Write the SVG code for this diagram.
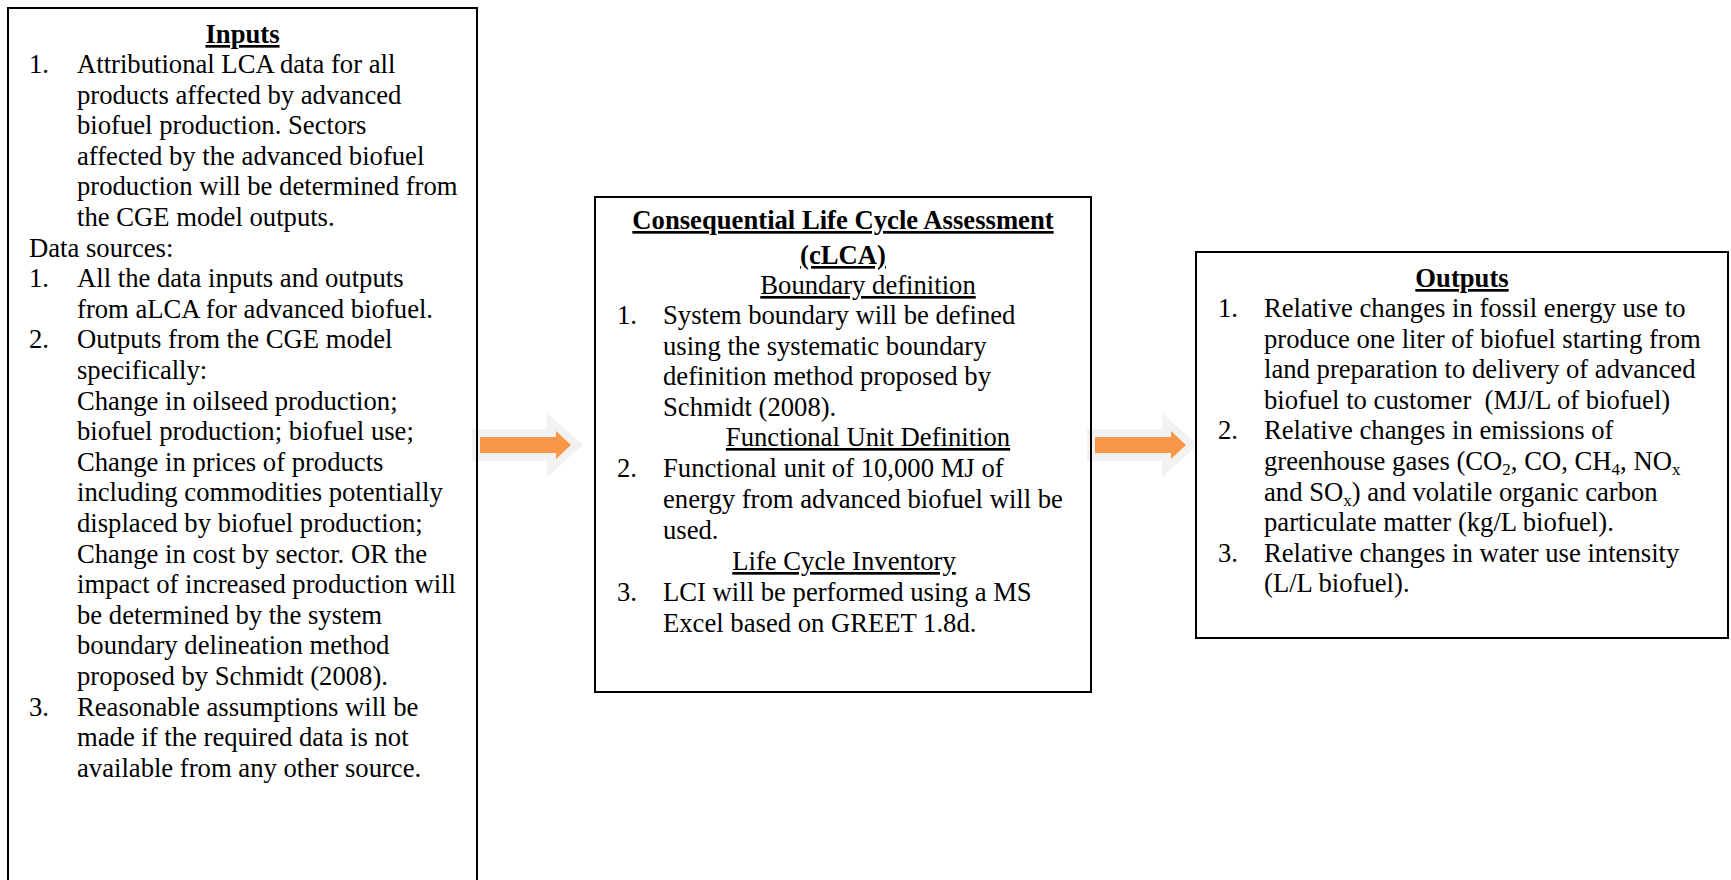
<svg xmlns="http://www.w3.org/2000/svg" width="1731" height="880" viewBox="0 0 1731 880">
<style>
text{font-family:"Liberation Serif","Times New Roman",serif;font-size:26.67px;fill:#000}
.b{font-weight:bold}
.u{text-decoration:underline}
.c{text-anchor:middle}
.box{fill:none;stroke:#000;stroke-width:2}
.glow{fill:#f2f2f2}
.arr{fill:#f79646}
.sub{font-size:17px}
</style>
<defs>
<g id="arrow">
<polygon class="glow" points="0,16 75,16 75,0 111,32 75,64 75,48 0,48"/>
<polygon class="arr" points="8,24 84,24 84,18 99,32 84,46 84,40 8,40"/>
</g>
</defs>
<rect width="1731" height="880" fill="#fff"/>
<g id="connectors">
<use href="#arrow" x="472" y="413"/>
<use href="#arrow" x="1087" y="413"/>
</g>
<g id="inputs">
<rect class="box" x="8" y="8" width="469" height="900"/>
<text class="b u c" x="242.5" y="43">Inputs</text>
<text x="29" y="73">1.</text><text x="77" y="73">Attributional LCA data for all</text>
<text x="77" y="103.6">products affected by advanced</text>
<text x="77" y="134.2">biofuel production. Sectors</text>
<text x="77" y="164.8">affected by the advanced biofuel</text>
<text x="77" y="195.4">production will be determined from</text>
<text x="77" y="226">the CGE model outputs.</text>
<text x="29" y="256.6">Data sources:</text>
<text x="29" y="287.2">1.</text><text x="77" y="287.2">All the data inputs and outputs</text>
<text x="77" y="317.8">from aLCA for advanced biofuel.</text>
<text x="29" y="348.4">2.</text><text x="77" y="348.4">Outputs from the CGE model</text>
<text x="77" y="379">specifically:</text>
<text x="77" y="409.6">Change in oilseed production;</text>
<text x="77" y="440.2">biofuel production; biofuel use;</text>
<text x="77" y="470.8">Change in prices of products</text>
<text x="77" y="501.4">including commodities potentially</text>
<text x="77" y="532">displaced by biofuel production;</text>
<text x="77" y="562.6">Change in cost by sector. OR the</text>
<text x="77" y="593.2">impact of increased production will</text>
<text x="77" y="623.8">be determined by the system</text>
<text x="77" y="654.4">boundary delineation method</text>
<text x="77" y="685">proposed by Schmidt (2008).</text>
<text x="29" y="715.6">3.</text><text x="77" y="715.6">Reasonable assumptions will be</text>
<text x="77" y="746.2">made if the required data is not</text>
<text x="77" y="776.8">available from any other source.</text>
</g>
<g id="clca">
<rect class="box" x="595" y="197" width="496" height="495"/>
<text class="b u c" x="843" y="229">Consequential Life Cycle Assessment</text>
<text class="b u c" x="843" y="264">(cLCA)</text>
<text class="u c" x="868" y="294">Boundary definition</text>
<text x="617" y="324">1.</text><text x="663" y="324">System boundary will be defined</text>
<text x="663" y="354.5">using the systematic boundary</text>
<text x="663" y="385">definition method proposed by</text>
<text x="663" y="415.5">Schmidt (2008).</text>
<text class="u c" x="868" y="446">Functional Unit Definition</text>
<text x="617" y="477">2.</text><text x="663" y="477">Functional unit of 10,000 MJ of</text>
<text x="663" y="508">energy from advanced biofuel will be</text>
<text x="663" y="539">used.</text>
<text class="u c" x="844" y="570">Life Cycle Inventory</text>
<text x="617" y="601">3.</text><text x="663" y="601">LCI will be performed using a MS</text>
<text x="663" y="632">Excel based on GREET 1.8d.</text>
</g>
<g id="outputs">
<rect class="box" x="1196" y="252" width="532" height="386"/>
<text class="b u c" x="1462" y="287">Outputs</text>
<text x="1218" y="317">1.</text><text x="1264" y="317">Relative changes in fossil energy use to</text>
<text x="1264" y="347.6">produce one liter of biofuel starting from</text>
<text x="1264" y="378.2">land preparation to delivery of advanced</text>
<text x="1264" y="408.8" xml:space="preserve">biofuel to customer  (MJ/L of biofuel)</text>
<text x="1218" y="439.4">2.</text><text x="1264" y="439.4">Relative changes in emissions of</text>
<text x="1264" y="470">greenhouse gases (CO<tspan class="sub" dy="5">2</tspan><tspan dy="-5">, CO, CH</tspan><tspan class="sub" dy="5">4</tspan><tspan dy="-5">, NO</tspan><tspan class="sub" dy="5">x</tspan></text>
<text x="1264" y="500.6">and SO<tspan class="sub" dy="5">x</tspan><tspan dy="-5">) and volatile organic carbon</tspan></text>
<text x="1264" y="531.2">particulate matter (kg/L biofuel).</text>
<text x="1218" y="561.8">3.</text><text x="1264" y="561.8">Relative changes in water use intensity</text>
<text x="1264" y="592.4">(L/L biofuel).</text>
</g>
</svg>
